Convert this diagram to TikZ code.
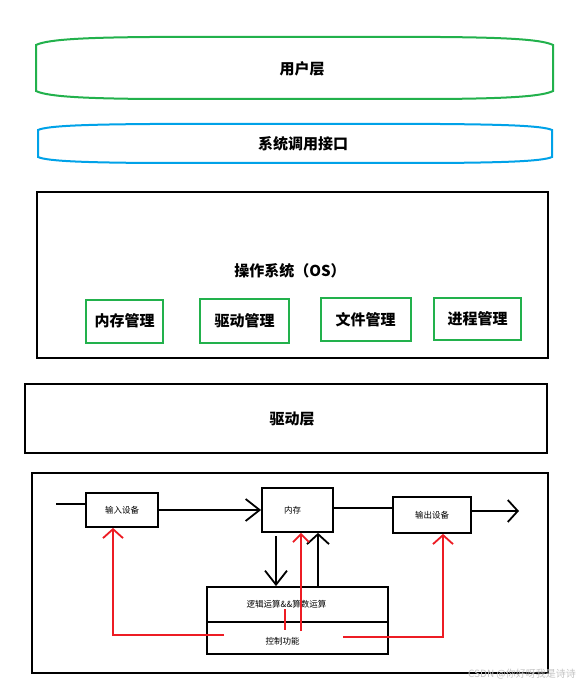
\documentclass[tikz,border=0pt]{standalone}
\usepackage{fontspec}
\setmainfont{Noto Sans CJK SC}
\usetikzlibrary{arrows.meta}
\definecolor{pgreen}{HTML}{22B14C}
\definecolor{pblue}{HTML}{00A2E8}
\definecolor{pred}{HTML}{ED1C24}
\definecolor{wmgray}{HTML}{C4C4C4}
\tikzset{
  bigtext/.style={font=\fontsize{15}{18}\selectfont\bfseries, inner sep=0pt},
  smalltext/.style={font=\fontsize{8.5}{10}\selectfont, inner sep=0pt},
  blackbox/.style={draw=black, line width=2pt, inner sep=0pt},
  greenbox/.style={draw=pgreen, line width=2pt, inner sep=0pt, font=\fontsize{15}{18}\selectfont\bfseries},
  smallbox/.style={draw=black, line width=1.8pt, inner sep=0pt, font=\fontsize{8.5}{10}\selectfont},
  blk/.style={black, line width=1.8pt},
  redl/.style={pred, line width=1.8pt},
  barbA/.style={-{Straight Barb[length=14pt,width=22pt]}},
  barbB/.style={-{Straight Barb[length=10pt,width=22pt]}},
  barbC/.style={-{Straight Barb[length=8pt,width=16pt]}},
  barbD/.style={-{Straight Barb[length=9pt,width=20pt]}}
}
\begin{document}
\begin{tikzpicture}[x=1pt,y=-1pt]
\useasboundingbox[fill=white] (0,0) rectangle (585,687);

% user layer
\draw[pgreen, line width=2pt] (36,45) .. controls (48,39) and (90,37.5) .. (150,37)
  -- (440,37) .. controls (500,37.5) and (541,39) .. (553,45)
  -- (553,91) .. controls (541,97) and (500,98.5) .. (440,99)
  -- (150,99) .. controls (90,98.5) and (48,97) .. (36,91) -- cycle;
\node[bigtext] (user) at (302,69) {用户层};

% system call interface
\draw[pblue, line width=2pt] (38,130) .. controls (48,125.5) and (90,124.5) .. (150,124)
  -- (440,124) .. controls (500,124.5) and (542,125.5) .. (552,130)
  -- (552,157) .. controls (542,161.5) and (500,162.5) .. (440,163)
  -- (150,163) .. controls (90,162.5) and (48,161.5) .. (38,157) -- cycle;
\node[bigtext] (syscall) at (303,144) {系统调用接口};

% OS layer
\node[blackbox, minimum width=511pt, minimum height=166pt] (os) at (292.5,275) {};
\node[bigtext] (ostitle) at (290,271) {操作系统（OS）};
\node[greenbox, minimum width=77pt, minimum height=43pt] (m1) at (124.5,321) {内存管理};
\node[greenbox, minimum width=89pt, minimum height=44pt] (m2) at (244.5,321) {驱动管理};
\node[greenbox, minimum width=90pt, minimum height=43pt] (m3) at (365.5,319.5) {文件管理};
\node[greenbox, minimum width=87pt, minimum height=42pt] (m4) at (477.5,318.5) {进程管理};

% driver layer
\node[blackbox, minimum width=522pt, minimum height=69pt] (drv) at (286,418.5) {};
\node[bigtext] (drvt) at (292,419) {驱动层};

% hardware box
\node[blackbox, minimum width=516pt, minimum height=200pt] (hw) at (290,573) {};

\node[smallbox, minimum width=72pt, minimum height=34pt] (in) at (122,510) {输入设备};
\node[smallbox, minimum width=71pt, minimum height=44pt,
      label={[smalltext, xshift=-5pt]center:内存}] (mem) at (297.5,510) {};
\node[smallbox, minimum width=78pt, minimum height=36pt] (out) at (432,515) {输出设备};
\node[smallbox, minimum width=181pt, minimum height=35pt,
      label={[smalltext, xshift=-11pt]center:逻辑运算\&\&算数运算}] (alu) at (297.5,604.5) {};
\node[smallbox, minimum width=181pt, minimum height=32pt,
      label={[smalltext, xshift=-15pt, yshift=-3pt]center:控制功能}] (ctl) at (297.5,638) {};

% coordinates for free ends
\coordinate (inL) at (56,504);
\coordinate (outR) at (519,511);
\coordinate (dwn) at (276,536);
\coordinate (upB) at (318,587);
\coordinate (rUp) at (301,631);
\coordinate (rS1) at (285,609);
\coordinate (rS2) at (285,630);
\coordinate (rL) at (224,635);
\coordinate (rLc) at (113,635);
\coordinate (rR) at (343,637);
\coordinate (rRc) at (443,637);

% black connectors
\draw[blk] (inL) -- (inL -| in.west);
\draw[blk, barbA] (in.east) -- (mem.west);
\draw[blk] (mem.east |- 0,508) -- (out.west |- 0,508);
\draw[blk, barbB] (out.east |- outR) -- (outR);
\draw[blk, barbA] (dwn) -- (dwn |- alu.north);
\draw[blk, barbB] (upB) -- (upB |- mem.south);

% red connectors
\draw[redl, barbC] (rUp) -- (rUp |- mem.south);
\draw[redl] (rS1) -- (rS2);
\draw[redl, barbD] (rL) -- (rLc) -- (rLc |- in.south);
\draw[redl, barbD] (rR) -- (rRc) -- (rRc |- out.south);

% watermark
\node[font=\fontsize{10}{12}\selectfont, text=wmgray, inner sep=0pt] (wm) at (522,674) {CSDN @你好呀我是诗诗};
\end{tikzpicture}
\end{document}
